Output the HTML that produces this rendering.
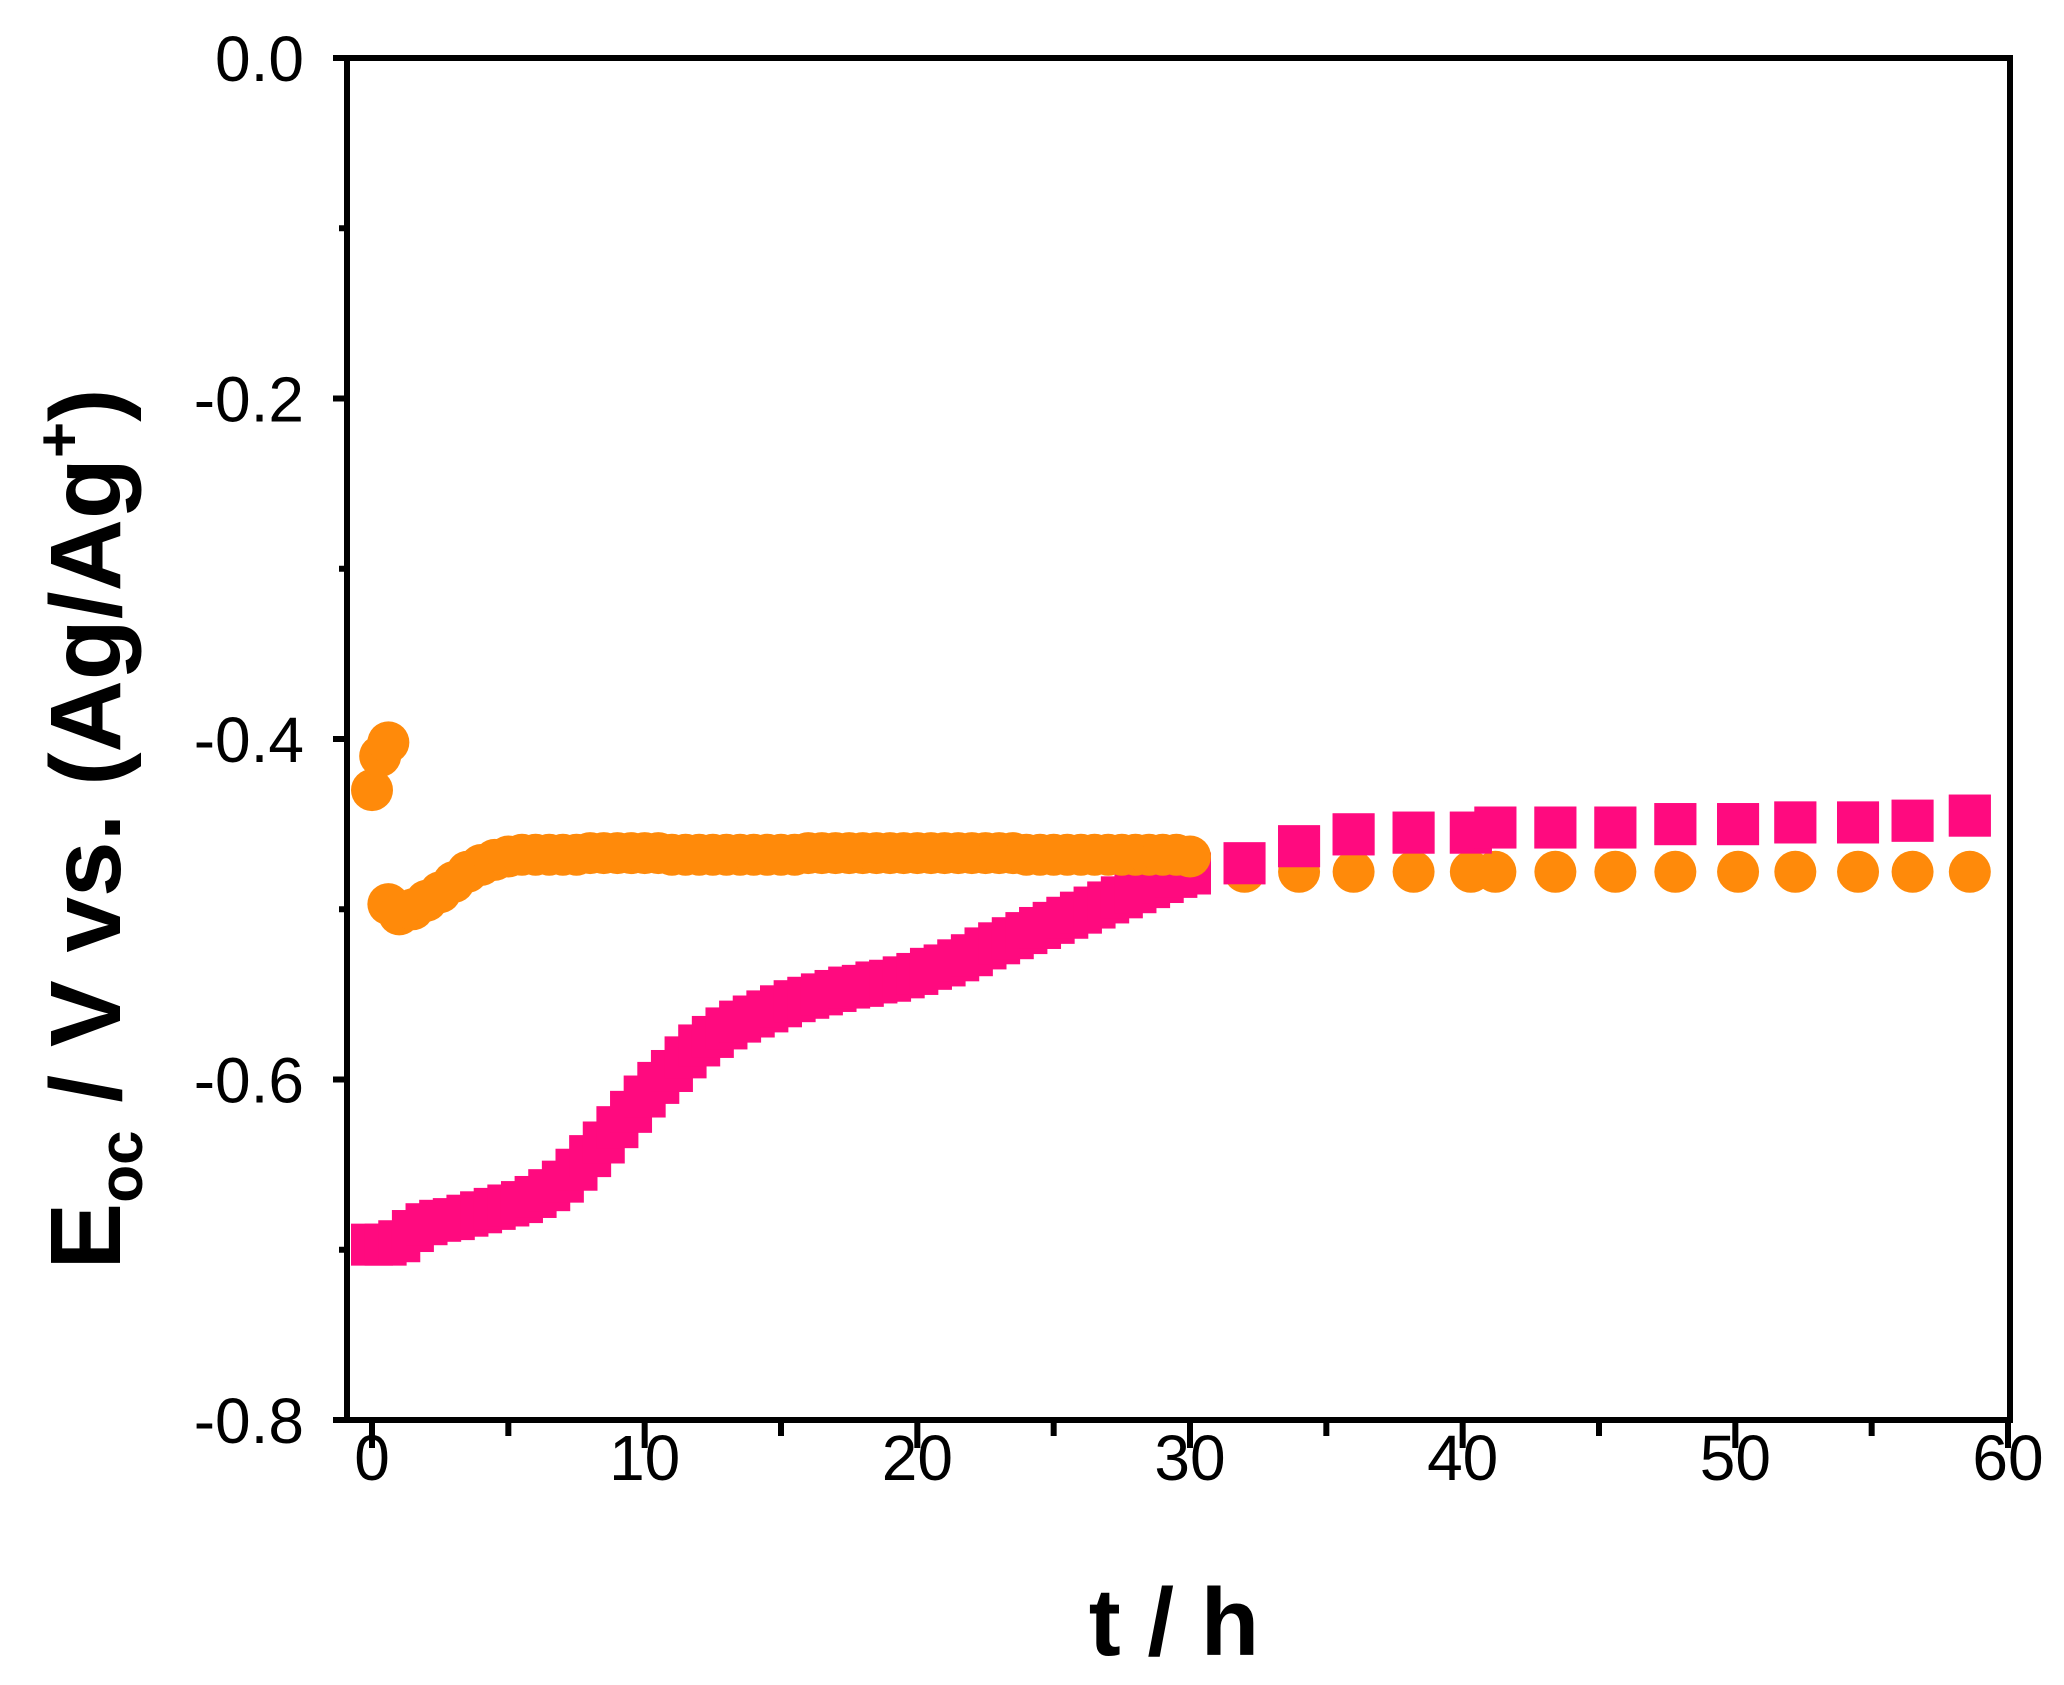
<!DOCTYPE html>
<html><head><meta charset="utf-8"><style>
html,body{margin:0;padding:0;background:#fff;width:2064px;height:1685px;overflow:hidden}
svg{display:block;font-family:"Liberation Sans",Arial,sans-serif}
</style></head><body>
<svg id="chart" width="2064" height="1685" viewBox="0 0 2064 1685" xmlns="http://www.w3.org/2000/svg"></svg>
<script>
const xTicks=[0,10,20,30,40,50,60];
const yTicks=[0.0,-0.2,-0.4,-0.6,-0.8];
const yTickLabels=["0.0","-0.2","-0.4","-0.6","-0.8"];
const pinkT=[0,0.5,1,1.5,2,2.5,3,3.5,4,4.5,5,5.5,6,6.5,7,7.5,8,8.5,9,9.5,10,10.5,11,11.5,12,12.5,13,13.5,14,14.5,15,15.5,16,16.5,17,17.5,18,18.5,19,19.5,20,20.5,21,21.5,22,22.5,23,23.5,24,24.5,25,25.5,26,26.5,27,27.5,28,28.5,29,29.5,30,32,34,36,38.2,40.3,41.2,43.4,45.6,47.8,50.1,52.2,54.5,56.5,58.6];
const pinkE=[-0.697,-0.697,-0.695,-0.689,-0.685,-0.683,-0.682,-0.68,-0.678,-0.676,-0.674,-0.672,-0.669,-0.665,-0.66,-0.653,-0.645,-0.637,-0.628,-0.619,-0.61,-0.602,-0.595,-0.587,-0.58,-0.575,-0.57,-0.566,-0.563,-0.56,-0.557,-0.554,-0.552,-0.55,-0.548,-0.546,-0.545,-0.543,-0.542,-0.54,-0.538,-0.535,-0.533,-0.53,-0.527,-0.523,-0.52,-0.517,-0.514,-0.511,-0.508,-0.505,-0.502,-0.499,-0.496,-0.493,-0.49,-0.487,-0.484,-0.481,-0.479,-0.473,-0.463,-0.456,-0.455,-0.455,-0.452,-0.452,-0.452,-0.45,-0.45,-0.449,-0.449,-0.448,-0.445];
const orangeT=[0,0.3,0.6,0.6,1,1.5,2,2.5,3,3.5,4,4.5,5,5.5,6,6.5,7,7.5,8,8.5,9,9.5,10,10.5,11,11.5,12,12.5,13,13.5,14,14.5,15,15.5,16,16.5,17,17.5,18,18.5,19,19.5,20,20.5,21,21.5,22,22.5,23,23.5,24,24.5,25,25.5,26,26.5,27,27.5,28,28.5,29,29.5,30,32,34,36,38.2,40.3,41.2,43.4,45.6,47.8,50.1,52.2,54.5,56.5,58.6];
const orangeE=[-0.43,-0.41,-0.402,-0.497,-0.503,-0.5,-0.495,-0.49,-0.484,-0.478,-0.474,-0.471,-0.469,-0.468,-0.468,-0.468,-0.468,-0.468,-0.467,-0.467,-0.467,-0.467,-0.467,-0.467,-0.468,-0.468,-0.468,-0.468,-0.468,-0.468,-0.468,-0.468,-0.468,-0.468,-0.467,-0.467,-0.467,-0.467,-0.467,-0.467,-0.467,-0.467,-0.467,-0.467,-0.467,-0.467,-0.467,-0.467,-0.467,-0.467,-0.468,-0.468,-0.468,-0.468,-0.468,-0.468,-0.468,-0.468,-0.468,-0.468,-0.468,-0.468,-0.469,-0.478,-0.478,-0.478,-0.478,-0.478,-0.478,-0.478,-0.478,-0.478,-0.478,-0.478,-0.478,-0.478,-0.478];

const NS="http://www.w3.org/2000/svg";
const svg=document.getElementById('chart');
const L=347,R=2010,T=58,B=1420;
const X=t=>372+(t-0)*(2008-372)/60;
const Y=v=>T+(0-v)*(B-T)/0.8;
function mk(tag,attrs,parent){const e=document.createElementNS(NS,tag);for(const k in attrs)e.setAttribute(k,attrs[k]);(parent||svg).appendChild(e);return e;}

const plot=mk('g',{});



const gp=mk('g',{fill:'#ff0a7f'},plot);


pinkT.forEach((t,i)=>{const r=mk('rect',{x:X(t)-21,y:Y(pinkE[i])-21,width:42,height:42},gp);

});
const go=mk('g',{fill:'#ff8a0a'},plot);


orangeT.forEach((t,i)=>{const c=mk('circle',{cx:X(t),cy:Y(orangeE[i]),r:21},go);

});
pinkT.forEach((t,i)=>{if(t>30){const r=mk('rect',{x:X(t)-21,y:Y(pinkE[i])-21,width:42,height:42,fill:'#ff0a7f'},plot);

}});

const fr=mk('rect',{x:L,y:T,width:R-L,height:B-T,fill:'none',stroke:'#000','stroke-width':6});



const xa=mk('g',{});


for(let t=0;t<=60;t+=5){const major=t%10===0;mk('line',{x1:X(t),x2:X(t),y1:B,y2:B+(major?28:16),stroke:'#000','stroke-width':6},xa);}
xTicks.forEach(t=>{const tx=mk('text',{x:X(t),y:1480,'font-size':64,'text-anchor':'middle',fill:'#000'},xa);tx.textContent=t;

});
const ya=mk('g',{});


for(let k=0;k<=8;k++){const v=-k*0.1;const major=k%2===0;mk('line',{x1:L-(major?14:8),x2:L,y1:Y(v),y2:Y(v),stroke:'#000','stroke-width':6},ya);}
yTicks.forEach((v,i)=>{const tx=mk('text',{x:304,y:Y(v)+23,'font-size':64,'text-anchor':'end',fill:'#000'},ya);tx.textContent=yTickLabels[i];

});

const xt=mk('text',{x:1174,y:1655,'font-size':96,'font-weight':'bold','text-anchor':'middle',fill:'#000'});
xt.textContent='t / h';


const yt=mk('text',{transform:'translate(120,829) rotate(-90)','font-size':100,'font-weight':'bold','text-anchor':'middle',fill:'#000'});
yt.innerHTML='E<tspan font-size="62" dy="22">oc</tspan><tspan dy="-22"> / V  vs. (Ag/Ag</tspan><tspan font-size="62" dy="-40">+</tspan><tspan dy="40">)</tspan>';


</script>
</body></html>
